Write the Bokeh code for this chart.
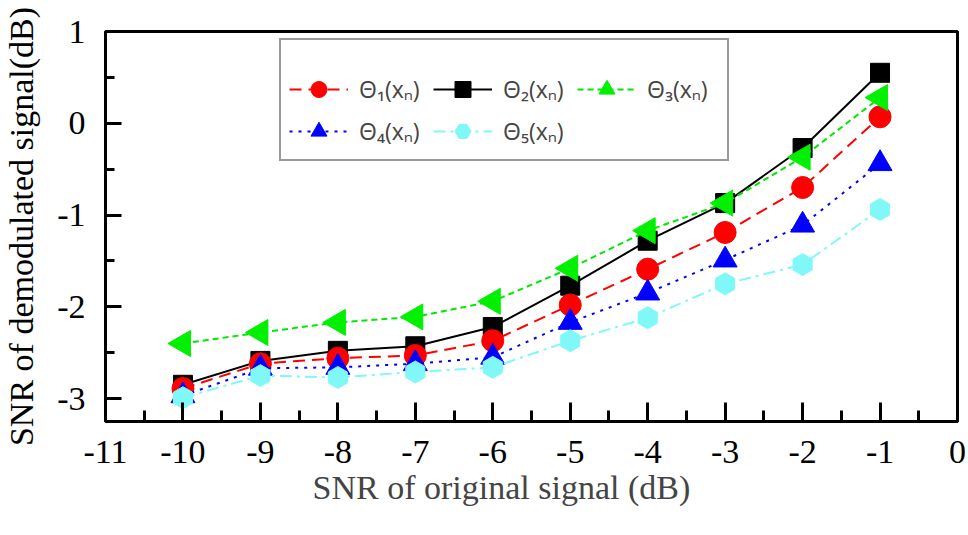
import numpy as np
from bokeh.plotting import figure
from bokeh.models import SingleIntervalTicker, Legend, LegendItem, Title, Range1d
from bokeh.embed import file_html
from bokeh.resources import INLINE

# ---- data ----
snr_in = [-10, -9, -8, -7, -6, -5, -4, -3, -2, -1]
theta1 = [-2.89, -2.62, -2.56, -2.53, -2.37, -1.98, -1.59, -1.19, -0.70, 0.07]
theta2 = [-2.85, -2.59, -2.48, -2.43, -2.22, -1.77, -1.28, -0.87, -0.27, 0.55]
theta3 = [-2.40, -2.28, -2.17, -2.11, -1.94, -1.58, -1.17, -0.87, -0.37, 0.28]
theta4 = [-2.97, -2.67, -2.66, -2.62, -2.55, -2.17, -1.85, -1.49, -1.11, -0.44]
theta5 = [-2.99, -2.75, -2.77, -2.71, -2.66, -2.37, -2.12, -1.75, -1.54, -0.94]
labels = ["Θ₁(xₙ)", "Θ₂(xₙ)", "Θ₃(xₙ)", "Θ₄(xₙ)", "Θ₅(xₙ)"]
x_ticks = [-11, -10, -9, -8, -7, -6, -5, -4, -3, -2, -1, 0]
y_ticks = [-3, -2, -1, 0, 1]
x_title = "SNR of original signal (dB)"
y_title = "SNR of demodulated signal(dB)"

p = figure(width=966, height=532, output_backend="svg", toolbar_location=None,
           x_range=Range1d(-11, 0), y_range=Range1d(-3.25, 1),
           min_border_left=103, min_border_right=9, min_border_top=31, min_border_bottom=111)
p.background_fill_color = "white"
p.border_fill_color = "white"
p.xgrid.visible = False
p.ygrid.visible = False
p.outline_line_color = "black"
p.outline_line_width = 3

serif = "Liberation Serif"
for ax in (p.xaxis[0], p.yaxis[0]):
    ax.axis_line_width = 3
    ax.axis_line_color = "black"
    ax.major_tick_line_width = 3
    ax.minor_tick_line_width = 3
    ax.major_tick_out = 0
    ax.minor_tick_out = 0
    ax.major_label_text_font = serif
    ax.major_label_text_font_size = "34px"
    ax.major_label_text_color = "black"
    ax.axis_label_text_font = serif
    ax.axis_label_text_font_size = "34px"
    ax.axis_label_text_font_style = "normal"
    ax.axis_label_text_color = "black"

p.xaxis.ticker = SingleIntervalTicker(interval=1, num_minor_ticks=2)
p.yaxis.ticker = SingleIntervalTicker(interval=1, num_minor_ticks=2)
p.xaxis.major_label_overrides = {v: str(v) for v in x_ticks}
p.yaxis.major_label_overrides = {v: str(v) for v in y_ticks}
p.xaxis.major_tick_in = 19
p.xaxis.minor_tick_in = 11
p.yaxis.major_tick_in = 16
p.yaxis.minor_tick_in = 9
p.xaxis.major_label_standoff = 19
p.yaxis.major_label_standoff = 20
p.yaxis.axis_label = y_title
p.yaxis.axis_label_standoff = 14

p.add_layout(Title(text=x_title, align="left", offset=207, text_font=serif,
                   text_font_size="34px", text_font_style="normal",
                   standoff=3), "below")

lw = 2
# drawing order as in the reference: black, red, green, blue, cyan
r2l = p.line(snr_in, theta2, line_color="black", line_width=lw)
r2m = p.scatter(snr_in, theta2, marker="square", size=19, fill_color="black", line_color="black")
r1l = p.line(snr_in, theta1, line_color="#FF0000", line_width=lw, line_dash="12 7")
r1m = p.scatter(snr_in, theta1, marker="circle", size=22, fill_color="#FF0000", line_color="#FF0000")
r3l = p.line(snr_in, theta3, line_color="#00E800", line_width=lw, line_dash="6 4")
r3m = p.scatter(snr_in, theta3, marker="triangle", size=26, angle=np.pi / 2,
                fill_color="#00F000", line_color="#00F000")
r4l = p.line(snr_in, theta4, line_color="#0000FF", line_width=lw, line_dash="3 6")
r4m = p.scatter(snr_in, theta4, marker="triangle", size=24, fill_color="#0000FF", line_color="#0000FF")
r5l = p.line(snr_in, theta5, line_color="#80F8F8", line_width=lw, line_dash="12 5 3 5")
r5m = p.scatter(snr_in, theta5, marker="hex", size=22, angle=np.pi / 2,
                fill_color="#80F8F8", line_color="#80F8F8")

items = [LegendItem(label=labels[0], renderers=[r1l, r1m]),
         LegendItem(label=labels[1], renderers=[r2l, r2m]),
         LegendItem(label=labels[2], renderers=[r3l, r3m]),
         LegendItem(label=labels[3], renderers=[r4l, r4m]),
         LegendItem(label=labels[4], renderers=[r5l, r5m])]
legend = Legend(items=items, location=(174, 260), orientation="horizontal", ncols=3,
                title=" ", title_text_font_size="15px", title_standoff=4,
                label_text_font="Open Sans", label_text_font_size="23px",
                glyph_width=59, glyph_height=40, label_height=40, label_width=72,
                label_standoff=11, spacing=2, padding=8, margin=0,
                border_line_color="#333333", border_line_width=2,
                background_fill_color="white", background_fill_alpha=1)
p.add_layout(legend, "center")

open("out.html", "w").write(file_html(p, INLINE))
